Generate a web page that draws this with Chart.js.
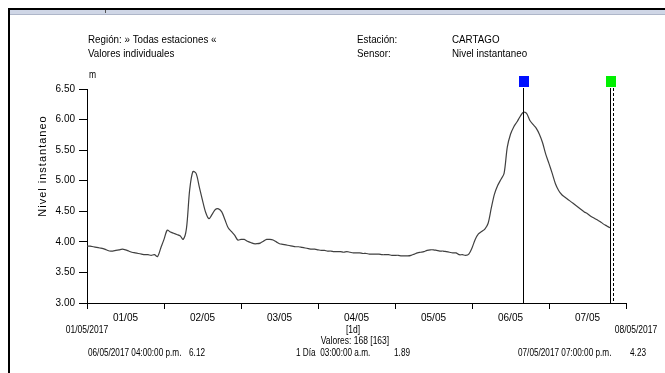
<!DOCTYPE html>
<html><head><meta charset="utf-8">
<script src="https://cdn.jsdelivr.net/npm/chart.js@4/dist/chart.umd.min.js"></script>
<style>html,body{margin:0;padding:0;background:#fff;}canvas{display:block;}</style>
</head><body>
<canvas id="c" width="665" height="373"></canvas>
<script>
// Hourly level values (m), 01/05/2017 00:00 -> 07/05/2017 19:00 (hour index 0..163)
const levels = [
 3.93,3.93,3.92,3.91,3.90,3.89,3.87,3.85,3.85,3.86,3.87,3.88,3.87,3.85,3.83,3.82,3.81,3.80,3.79,3.79,3.78,3.79,3.76,3.90,
 4.04,4.19,4.16,4.14,4.12,4.10,4.04,4.22,4.85,5.15,5.12,4.90,4.68,4.48,4.38,4.45,4.53,4.54,4.49,4.36,4.23,4.17,4.11,4.03,
 4.04,4.04,4.01,3.99,3.97,3.97,3.98,4.01,4.04,4.04,4.03,4.00,3.97,3.96,3.95,3.94,3.93,3.92,3.92,3.91,3.90,3.89,3.88,3.88,
 3.87,3.86,3.86,3.85,3.85,3.84,3.84,3.84,3.83,3.84,3.83,3.82,3.82,3.82,3.81,3.81,3.80,3.80,3.80,3.80,3.79,3.79,3.79,3.78,
 3.78,3.78,3.77,3.77,3.77,3.78,3.80,3.82,3.83,3.84,3.86,3.87,3.87,3.86,3.85,3.85,3.84,3.83,3.82,3.82,3.79,3.79,3.78,3.80,
 3.90,4.04,4.13,4.17,4.21,4.30,4.55,4.78,4.92,5.02,5.12,5.55,5.76,5.88,5.96,6.05,6.12,6.10,5.99,5.92,5.86,5.76,5.62,5.43,
 5.28,5.12,4.95,4.84,4.77,4.73,4.69,4.65,4.61,4.57,4.53,4.49,4.46,4.42,4.39,4.36,4.33,4.29,4.26,4.23
];
const dayLabels = ['01/05','02/05','03/05','04/05','05/05','06/05','07/05'];
const dayTicks = [0,24,48,72,96,120,144,168];
const yTicks = [3.00,3.50,4.00,4.50,5.00,5.50,6.00,6.50];
const cursorBlueHour = 136;   // 06/05/2017 04:00 p.m.
const cursorGreenHour = 163;  // 07/05/2017 07:00 p.m.
const dataEndHour = 164;
const headerLeft = ['Región: » Todas estaciones «','Valores individuales'];
const headerMid = ['Estación:','Sensor:'];
const headerRight = ['CARTAGO','Nivel instantaneo'];
const yTitle = 'Nivel instantaneo';
const unit = 'm';
const startDate = '01/05/2017', endDate = '08/05/2017';
const intervalText = '[1d]', countText = 'Valores: 168 [163]';
const footer = [['06/05/2017 04:00:00 p.m.','6.12'],['1 Día  03:00:00 a.m.','1.89'],['07/05/2017 07:00:00 p.m.','4.23']];

const FONT = '"Liberation Sans", Arial, sans-serif';
function txt(ctx, s, x, y, align, size, sx) {
  ctx.save();
  ctx.font = (size||10) + 'px ' + FONT;
  ctx.fillStyle = '#000';
  ctx.textBaseline = 'middle';
  ctx.translate(x, y);
  ctx.scale(sx||0.85, 1);
  ctx.textAlign = align || 'left';
  ctx.fillText(s, 0, 0);
  ctx.restore();
}

const decor = {
  id: 'decor',
  beforeDraw(chart) {
    const ctx = chart.ctx;
    ctx.save();
    ctx.fillStyle = '#fff';
    ctx.fillRect(0, 0, chart.width, chart.height);
    ctx.fillStyle = '#000';
    ctx.fillRect(8, 8, chart.width - 8, 2);
    ctx.fillStyle = '#cfd6e6';
    ctx.fillRect(10, 10, chart.width - 10, 4);
    ctx.fillStyle = '#aeb6c9';
    ctx.fillRect(10, 14, chart.width - 10, 1);
    ctx.fillStyle = '#000';
    ctx.fillRect(8, 8, 2, chart.height - 8);
    ctx.fillStyle = '#555';
    ctx.fillRect(105, 10, 1, 3);
    ctx.restore();
  },
  afterDraw(chart) {
    const ctx = chart.ctx;
    const xs = chart.scales.x;
    const top = chart.chartArea.top, bottom = chart.chartArea.bottom;
    // header
    txt(ctx, headerLeft[0], 88, 40, 'left', 11, 0.89); txt(ctx, headerLeft[1], 88, 54, 'left', 11, 0.89);
    txt(ctx, headerMid[0], 357, 40, 'left', 11, 0.89); txt(ctx, headerMid[1], 357, 54, 'left', 11, 0.89);
    txt(ctx, headerRight[0], 452, 40, 'left', 11, 0.89); txt(ctx, headerRight[1], 452, 54, 'left', 11, 0.89);
    txt(ctx, unit, 89, 75);
    // y title
    ctx.save();
    ctx.translate(43, 166);
    ctx.rotate(-Math.PI / 2);
    ctx.font = '11px ' + FONT;
    ctx.letterSpacing = '1px';
    ctx.fillStyle = '#000';
    ctx.textAlign = 'center';
    ctx.textBaseline = 'middle';
    ctx.fillText(yTitle, 0, 0);
    ctx.restore();
    // cursors
    const xb = xs.getPixelForValue(cursorBlueHour);
    const xg = xs.getPixelForValue(cursorGreenHour);
    const xe = xs.getPixelForValue(dataEndHour);
    ctx.save();
    ctx.strokeStyle = '#000';
    ctx.lineWidth = 1;
    ctx.beginPath();
    ctx.moveTo(Math.round(xb) + 0.5, top - 1); ctx.lineTo(Math.round(xb) + 0.5, bottom);
    ctx.moveTo(Math.round(xg) + 0.5, top - 1); ctx.lineTo(Math.round(xg) + 0.5, bottom);
    ctx.stroke();
    ctx.setLineDash([3, 2]);
    ctx.beginPath();
    ctx.moveTo(Math.round(xe) + 0.5, top - 1); ctx.lineTo(Math.round(xe) + 0.5, bottom);
    ctx.stroke();
    ctx.setLineDash([]);
    ctx.fillStyle = '#0010ff';
    ctx.fillRect(Math.round(xb) - 4, top - 13, 10, 11);
    ctx.fillStyle = '#00f000';
    ctx.fillRect(Math.round(xg) - 4, top - 13, 10, 11);
    ctx.restore();
    // bottom texts
    txt(ctx, startDate, xs.getPixelForValue(0), 330, 'center', 10, 0.85);
    txt(ctx, endDate, 636, 330, 'center', 10, 0.85);
    txt(ctx, intervalText, 353, 330, 'center', 10, 0.85);
    txt(ctx, countText, 355, 341, 'center', 10, 0.85);
    txt(ctx, footer[0][0], 88, 353, 'left', 10, 0.82); txt(ctx, footer[0][1], 205, 353, 'right', 10, 0.82);
    txt(ctx, footer[1][0], 296, 353, 'left', 10, 0.82); txt(ctx, footer[1][1], 410, 353, 'right', 10, 0.82);
    txt(ctx, footer[2][0], 518, 353, 'left', 10, 0.82); txt(ctx, footer[2][1], 646, 353, 'right', 10, 0.82);
  }
};

new Chart(document.getElementById('c'), {
  type: 'line',
  data: {
    datasets: [{
      data: levels.map((v, i) => ({ x: i, y: v })),
      borderColor: '#404040',
      borderWidth: 1.2,
      pointRadius: 0,
      tension: 0.3,
      fill: false
    }]
  },
  options: {
    responsive: false,
    animation: false,
    events: [],
    layout: { padding: { left: 0, top: 89, right: 39, bottom: 0 } },
    plugins: { legend: { display: false }, tooltip: { enabled: false } },
    scales: {
      x: {
        type: 'linear', min: 0, max: 168,
        afterBuildTicks(s) { s.ticks = dayTicks.map(v => ({ value: v })); },
        afterFit(s) { s.height = 70; },
        ticks: {
          autoSkip: false, maxRotation: 0, padding: 3, labelOffset: 38.5,
          color: '#000', font: { family: FONT, size: 10 },
          callback: (v, i) => dayLabels[i] || ''
        },
        grid: { display: true, drawOnChartArea: false, drawTicks: true, tickLength: 6, color: '#000' },
        border: { display: true, color: '#000', width: 1 }
      },
      y: {
        min: 3, max: 6.5,
        afterBuildTicks(s) { s.ticks = yTicks.map(v => ({ value: v })); },
        afterFit(s) { s.width = 87; },
        ticks: {
          padding: 4, color: '#000', font: { family: FONT, size: 10 },
          callback: v => Number(v).toFixed(2)
        },
        grid: { display: true, drawOnChartArea: false, drawTicks: true, tickLength: 8, color: '#000' },
        border: { display: true, color: '#000', width: 1 }
      }
    }
  },
  plugins: [decor]
});
</script>
</body></html>
